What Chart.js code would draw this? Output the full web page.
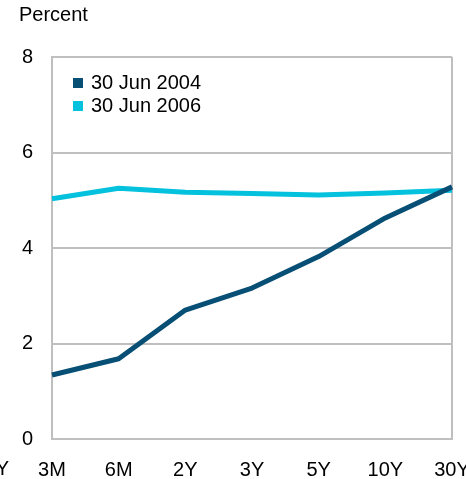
<!DOCTYPE html>
<html>
<head>
<meta charset="utf-8">
<script src="https://cdn.jsdelivr.net/npm/chart.js@4/dist/chart.umd.min.js"></script>
<style>
  html, body { margin: 0; padding: 0; background: #fff; }
  #wrap { width: 466px; height: 479px; position: relative; }
</style>
</head>
<body>
<div id="wrap"><canvas id="c" width="466" height="479"></canvas></div>
<script>
// Yield curve: maturities and yields (percent)
const maturities = ['3M', '6M', '2Y', '3Y', '5Y', '10Y', '30Y'];
const leadLabel = '1Y';
const yields2004 = [1.34, 1.68, 2.70, 3.16, 3.82, 4.63, 5.28];
const yields2006 = [5.03, 5.25, 5.17, 5.14, 5.11, 5.15, 5.21];
const seriesNames = ['30 Jun 2004', '30 Jun 2006'];
const yTicks = [0, 2, 4, 6, 8];

const FONT = 'Liberation Sans, Arial, sans-serif';
const FS = 20;
const GRID = '#bfbfbf';
const DARK = '#074f75';
const CYAN = '#04c1dd';

const unitLabel = {
  id: 'unitLabel',
  afterDraw(chart) {
    const ctx = chart.ctx;
    ctx.save();
    ctx.font = FS + 'px ' + FONT;
    ctx.fillStyle = '#000';
    ctx.textBaseline = 'middle';
    ctx.textAlign = 'left';
    ctx.fillText('Percent', 19, 15);
    // label sitting one step before the first maturity
    ctx.textAlign = 'right';
    ctx.fillText(leadLabel, 9, 469);
    ctx.restore();
  }
};

const legendBox = {
  id: 'legendBox',
  afterDatasetsDraw(chart) {
    const ctx = chart.ctx;
    const a = chart.chartArea;
    ctx.save();
    ctx.font = FS + 'px ' + FONT;
    ctx.textBaseline = 'middle';
    ctx.textAlign = 'left';
    chart.data.datasets.forEach((ds, i) => {
      const y = a.top + 26 + i * 23;
      ctx.fillStyle = ds.borderColor;
      ctx.fillRect(a.left + 21, y - 5, 10, 10);
      ctx.fillStyle = '#000';
      ctx.fillText(ds.label, a.left + 39, y);
    });
    ctx.restore();
  }
};

new Chart(document.getElementById('c'), {
  type: 'line',
  data: {
    labels: maturities,
    datasets: [
      { label: seriesNames[0], data: yields2004, borderColor: DARK, backgroundColor: DARK,
        borderWidth: 5, pointRadius: 0, tension: 0, borderJoinStyle: 'round' },
      { label: seriesNames[1], data: yields2006, borderColor: CYAN, backgroundColor: CYAN,
        borderWidth: 5, pointRadius: 0, tension: 0, borderJoinStyle: 'round' }
    ]
  },
  options: {
    responsive: false,
    animation: false,
    devicePixelRatio: 1,
    layout: { padding: { top: 57, right: 0, left: 0, bottom: 0 } },
    plugins: { legend: { display: false }, tooltip: { enabled: false } },
    scales: {
      x: {
        offset: false,
        grid: {
          drawTicks: false,
          color: ctx => (ctx.index === 0 || ctx.index === maturities.length - 1) ? GRID : 'rgba(0,0,0,0)',
          lineWidth: 2
        },
        border: { display: true, color: GRID, width: 2 },
        ticks: { color: '#000', font: { family: FONT, size: FS }, padding: 19, maxRotation: 0, autoSkip: false },
        afterFit(s) { s.height = 40; s.paddingLeft = 0; s.paddingRight = 14; }
      },
      y: {
        min: 0, max: 8,
        afterBuildTicks(s) { s.ticks = yTicks.map(v => ({ value: v })); },
        grid: { drawTicks: false, color: GRID, lineWidth: 2 },
        border: { display: true, color: GRID, width: 2 },
        ticks: { color: '#000', font: { family: FONT, size: FS }, padding: 19 },
        afterFit(s) { s.width = 52; s.paddingTop = 0; s.paddingBottom = 0; }
      }
    }
  },
  plugins: [unitLabel, legendBox]
});
</script>
</body>
</html>
